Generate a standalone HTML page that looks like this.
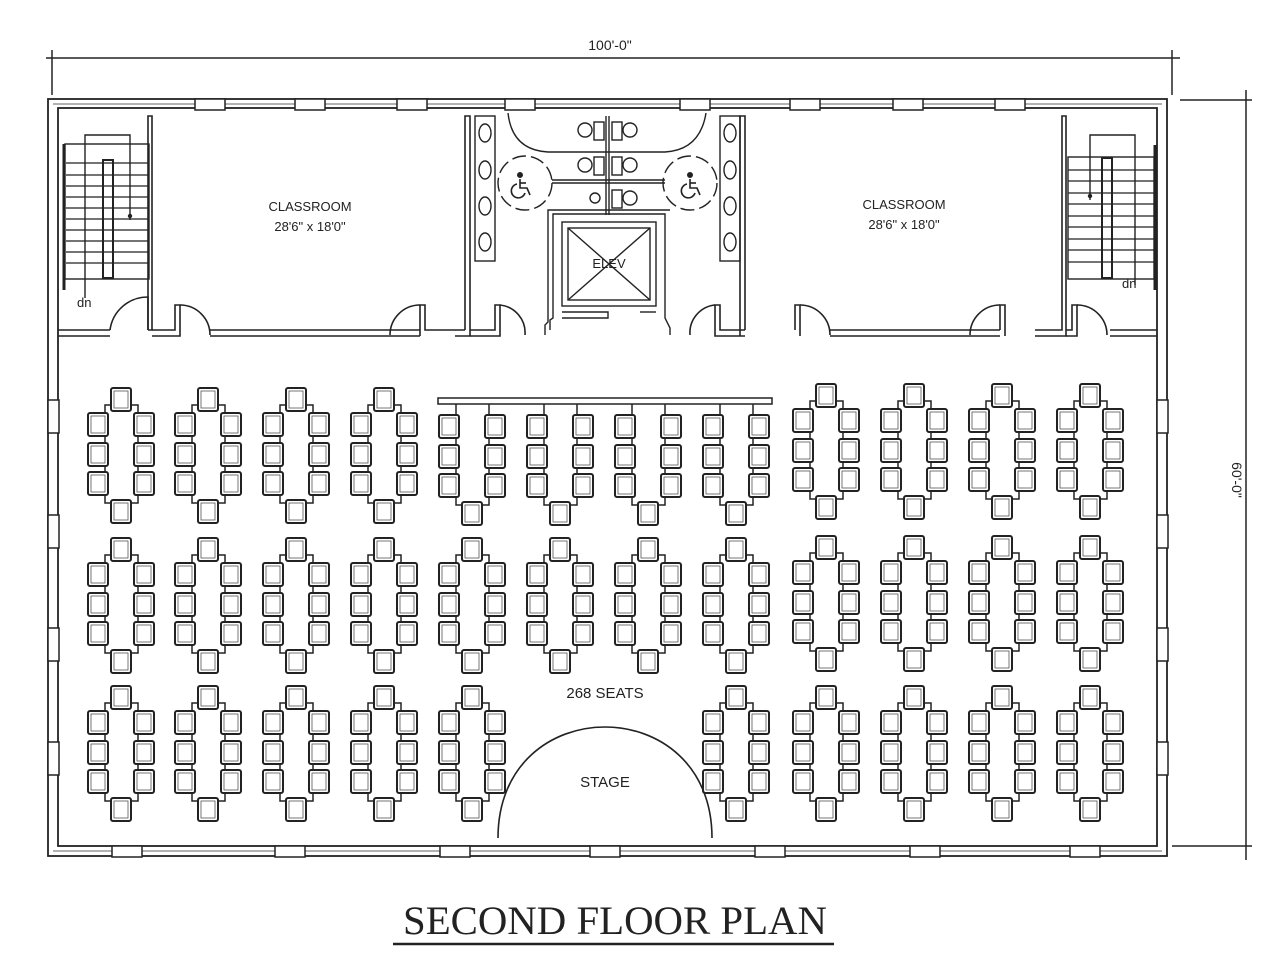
<!DOCTYPE html>
<html><head><meta charset="utf-8"><style>
html,body{margin:0;padding:0;background:#fff;width:1280px;height:960px;overflow:hidden}
svg{display:block}
text{font-family:"Liberation Sans",sans-serif;fill:#222}
</style></head><body>
<svg width="1280" height="960" viewBox="0 0 1280 960" xmlns="http://www.w3.org/2000/svg">
<defs>
<g id="ch"><rect x="0" y="0" width="20" height="23" rx="2" fill="#fff" stroke="#222" stroke-width="2"/><rect x="3" y="3" width="14" height="17" fill="none" stroke="#555" stroke-width="0.8"/></g>
<g id="t">
<rect x="-16" y="17" width="33" height="98" fill="#fff" stroke="#222" stroke-width="1.5"/>
<use href="#ch" x="-10" y="0"/>
<use href="#ch" x="-10" y="112"/>
<use href="#ch" x="-33" y="25"/><use href="#ch" x="-33" y="55"/><use href="#ch" x="-33" y="84"/>
<use href="#ch" x="13" y="25"/><use href="#ch" x="13" y="55"/><use href="#ch" x="13" y="84"/>
</g>
<g id="tn">
<rect x="-16" y="12" width="33" height="103" fill="#fff" stroke="#222" stroke-width="1.5"/>
<use href="#ch" x="-10" y="112"/>
<use href="#ch" x="-33" y="25"/><use href="#ch" x="-33" y="55"/><use href="#ch" x="-33" y="84"/>
<use href="#ch" x="13" y="25"/><use href="#ch" x="13" y="55"/><use href="#ch" x="13" y="84"/>
</g>
<g id="wh"><rect x="0" y="-5" width="30" height="11" fill="#fff" stroke="#222" stroke-width="1.5"/></g>
<g id="wv"><rect x="-5" y="0" width="11" height="33" fill="#fff" stroke="#222" stroke-width="1.5"/></g>
<g id="hc" fill="none" stroke="#222" stroke-width="1.6">
<circle cx="0" cy="-11" r="2.2" fill="#222"/>
<path d="M0,-7 L0,2 L7,2 L10,9"/>
<path d="M0,-3 L6,-3"/>
<path d="M-3,-2 A7,7 0 1 0 5,7"/>
</g>
</defs>

<g stroke="#222" stroke-width="1.5" fill="none">
<line x1="46" y1="58" x2="1180" y2="58"/>
<line x1="52" y1="50" x2="52" y2="95"/>
<line x1="1172" y1="50" x2="1172" y2="95"/>
<line x1="1246" y1="90" x2="1246" y2="860"/>
<line x1="1180" y1="100" x2="1252" y2="100"/>
<line x1="1172" y1="846" x2="1252" y2="846"/>
</g>
<text x="610" y="50" font-size="14" text-anchor="middle">100'-0"</text>
<text x="0" y="0" font-size="14" text-anchor="middle" transform="translate(1232,480) rotate(90)">60'-0"</text>

<g fill="none" stroke="#222" stroke-width="1.8">
<rect x="48" y="99" width="1119" height="757"/>
<rect x="58" y="108" width="1099" height="738"/>
</g>
<line x1="53" y1="104" x2="1162" y2="104" stroke="#666" stroke-width="1"/>
<line x1="53" y1="851" x2="1162" y2="851" stroke="#666" stroke-width="1"/>
<use href="#wh" x="195" y="104"/><use href="#wh" x="295" y="104"/><use href="#wh" x="397" y="104"/><use href="#wh" x="505" y="104"/>
<use href="#wh" x="680" y="104"/><use href="#wh" x="790" y="104"/><use href="#wh" x="893" y="104"/><use href="#wh" x="995" y="104"/>
<use href="#wh" x="112" y="851"/><use href="#wh" x="275" y="851"/><use href="#wh" x="440" y="851"/><use href="#wh" x="590" y="851"/>
<use href="#wh" x="755" y="851"/><use href="#wh" x="910" y="851"/><use href="#wh" x="1070" y="851"/>
<use href="#wv" x="53" y="400"/><use href="#wv" x="53" y="515"/><use href="#wv" x="53" y="628"/><use href="#wv" x="53" y="742"/>
<use href="#wv" x="1162" y="400"/><use href="#wv" x="1162" y="515"/><use href="#wv" x="1162" y="628"/><use href="#wv" x="1162" y="742"/>

<g fill="none" stroke="#222" stroke-width="1.6">
<polyline points="58,330 110,330"/><polyline points="58,336 110,336"/>
<polyline points="148,330 148,116 152,116 152,330 148,330"/>
<polyline points="152,330 175,330 175,305 180,305 180,336 152,336"/>
<polyline points="210,330 420,330"/><polyline points="210,336 420,336"/>
<polyline points="420,336 420,305 425,305 425,330 465,330"/>
<polyline points="465,330 465,116 470,116 470,336 455,336"/>
<polyline points="470,330 495,330 495,305 500,305 500,336 470,336"/>
<polyline points="745,330 720,330 720,305 715,305 715,336 745,336"/>
<polyline points="745,330 745,116 740,116 740,336"/>
<polyline points="795,330 795,305 800,305 800,336"/>
<polyline points="1000,330 1000,305 1005,305 1005,336"/>
<polyline points="830,330 1000,330"/><polyline points="830,336 1000,336"/>
<polyline points="1035,330 1062,330 1062,116 1066,116 1066,336 1035,336"/>
<polyline points="1066,330 1072,330 1072,305 1077,305 1077,336 1066,336"/>
<polyline points="1110,330 1157,330"/><polyline points="1110,336 1157,336"/>
<path d="M110,330 A38,38 0 0 1 148,297 L148,330"/>
<path d="M180,305 A30,30 0 0 1 210,335"/>
<path d="M420,305 A30,30 0 0 0 390,335"/>
<path d="M500,305 A28,28 0 0 1 525,335"/>
<path d="M715,305 A28,28 0 0 0 690,335"/>
<path d="M800,305 A30,30 0 0 1 830,335"/>
<path d="M1000,305 A30,30 0 0 0 970,335"/>
<path d="M1077,305 A30,30 0 0 1 1107,335"/>
</g>

<g fill="none" stroke="#222" stroke-width="1.4">
<rect x="65" y="144" width="84" height="135"/>
<line x1="64" y1="144" x2="64" y2="290" stroke-width="3"/>
<rect x="103" y="160" width="10" height="118" stroke-width="2"/>
<polyline points="85,298 85,135 130,135 130,220"/>
<circle cx="130" cy="216" r="1.5" fill="#222"/>
</g>
<g stroke="#222" stroke-width="1.2">
<line x1="66" y1="163" x2="148" y2="163"/><line x1="66" y1="175" x2="148" y2="175"/><line x1="66" y1="186" x2="148" y2="186"/><line x1="66" y1="197" x2="148" y2="197"/><line x1="66" y1="208" x2="148" y2="208"/><line x1="66" y1="219" x2="148" y2="219"/><line x1="66" y1="230" x2="148" y2="230"/><line x1="66" y1="241" x2="148" y2="241"/><line x1="66" y1="252" x2="148" y2="252"/><line x1="66" y1="263" x2="148" y2="263"/>
</g>
<text x="77" y="307" font-size="13">dn</text>

<g fill="none" stroke="#222" stroke-width="1.4">
<rect x="1068" y="157" width="86" height="122"/>
<line x1="1155" y1="145" x2="1155" y2="290" stroke-width="3"/>
<rect x="1102" y="158" width="10" height="120" stroke-width="2"/>
<polyline points="1090,200 1090,135 1135,135 1135,285"/>
<circle cx="1090" cy="196" r="1.5" fill="#222"/>
</g>
<g stroke="#222" stroke-width="1.2">
<line x1="1068" y1="170" x2="1154" y2="170"/><line x1="1068" y1="181" x2="1154" y2="181"/><line x1="1068" y1="193" x2="1154" y2="193"/><line x1="1068" y1="204" x2="1154" y2="204"/><line x1="1068" y1="216" x2="1154" y2="216"/><line x1="1068" y1="227" x2="1154" y2="227"/><line x1="1068" y1="239" x2="1154" y2="239"/><line x1="1068" y1="250" x2="1154" y2="250"/><line x1="1068" y1="262" x2="1154" y2="262"/>
</g>
<text x="1122" y="288" font-size="13">dn</text>

<text x="310" y="211" font-size="13" text-anchor="middle">CLASSROOM</text>
<text x="310" y="231" font-size="13" text-anchor="middle">28'6" x 18'0"</text>
<text x="904" y="209" font-size="13" text-anchor="middle">CLASSROOM</text>
<text x="904" y="229" font-size="13" text-anchor="middle">28'6" x 18'0"</text>

<g fill="none" stroke="#222" stroke-width="1.4">
<rect x="475" y="116" width="20" height="145"/>
<ellipse cx="485" cy="133" rx="6" ry="9"/><ellipse cx="485" cy="170" rx="6" ry="9"/><ellipse cx="485" cy="206" rx="6" ry="9"/><ellipse cx="485" cy="242" rx="6" ry="9"/>
<rect x="720" y="116" width="20" height="145"/>
<ellipse cx="730" cy="133" rx="6" ry="9"/><ellipse cx="730" cy="170" rx="6" ry="9"/><ellipse cx="730" cy="206" rx="6" ry="9"/><ellipse cx="730" cy="242" rx="6" ry="9"/>
<path d="M508,113 Q512,150 548,152 L665,152 Q700,150 706,113"/>
<line x1="606" y1="116" x2="606" y2="215"/><line x1="609" y1="116" x2="609" y2="215"/>
<line x1="552" y1="180" x2="665" y2="180"/><line x1="552" y1="183" x2="665" y2="183"/>
<circle cx="525" cy="183" r="27" stroke-dasharray="14,5"/>
<circle cx="690" cy="183" r="27" stroke-dasharray="14,5"/>
<circle cx="585" cy="130" r="7"/><circle cx="630" cy="130" r="7"/>
<circle cx="585" cy="165" r="7"/><circle cx="630" cy="165" r="7"/>
<circle cx="630" cy="198" r="7"/><circle cx="595" cy="198" r="5"/>
<rect x="594" y="122" width="10" height="18"/><rect x="612" y="122" width="10" height="18"/>
<rect x="594" y="157" width="10" height="18"/><rect x="612" y="157" width="10" height="18"/>
<rect x="612" y="190" width="10" height="18"/>
<polyline points="550,330 550,320 553,318 553,214 665,214 665,318 670,328 670,335"/>
<polyline points="545,335 545,325 548,322 548,210 670,210"/>
<rect x="562" y="222" width="94" height="84"/>
<rect x="568" y="228" width="82" height="72"/>
<line x1="568" y1="228" x2="650" y2="300"/><line x1="650" y1="228" x2="568" y2="300"/>
<polyline points="562,312 608,312 608,318 562,318"/>
<polyline points="640,312 656,312"/>
</g>
<use href="#hc" x="520" y="186"/>
<use href="#hc" x="690" y="186"/>
<text x="609" y="268" font-size="13" text-anchor="middle">ELEV</text>

<use href="#t" x="121" y="388"/><use href="#t" x="208" y="388"/><use href="#t" x="296" y="388"/><use href="#t" x="384" y="388"/>
<use href="#tn" x="472" y="390"/><use href="#tn" x="560" y="390"/><use href="#tn" x="648" y="390"/><use href="#tn" x="736" y="390"/>
<use href="#t" x="826" y="384"/><use href="#t" x="914" y="384"/><use href="#t" x="1002" y="384"/><use href="#t" x="1090" y="384"/>
<rect x="438" y="398" width="334" height="6" fill="#fff" stroke="#222" stroke-width="1.5"/>
<use href="#t" x="121" y="538"/><use href="#t" x="208" y="538"/><use href="#t" x="296" y="538"/><use href="#t" x="384" y="538"/>
<use href="#t" x="472" y="538"/><use href="#t" x="560" y="538"/><use href="#t" x="648" y="538"/><use href="#t" x="736" y="538"/>
<use href="#t" x="826" y="536"/><use href="#t" x="914" y="536"/><use href="#t" x="1002" y="536"/><use href="#t" x="1090" y="536"/>
<use href="#t" x="121" y="686"/><use href="#t" x="208" y="686"/><use href="#t" x="296" y="686"/><use href="#t" x="384" y="686"/>
<use href="#t" x="472" y="686"/>
<use href="#t" x="736" y="686"/><use href="#t" x="826" y="686"/><use href="#t" x="914" y="686"/><use href="#t" x="1002" y="686"/><use href="#t" x="1090" y="686"/>

<text x="605" y="698" font-size="15" text-anchor="middle">268 SEATS</text>
<path d="M498,838 C498,690 712,690 712,838" fill="none" stroke="#222" stroke-width="1.6"/>
<text x="605" y="787" font-size="15" text-anchor="middle">STAGE</text>

<text x="403" y="934" font-size="40" textLength="424" lengthAdjust="spacingAndGlyphs" style="font-family:'Liberation Serif',serif">SECOND FLOOR PLAN</text>
<line x1="393" y1="944" x2="834" y2="944" stroke="#222" stroke-width="2.5"/>
</svg>
</body></html>
